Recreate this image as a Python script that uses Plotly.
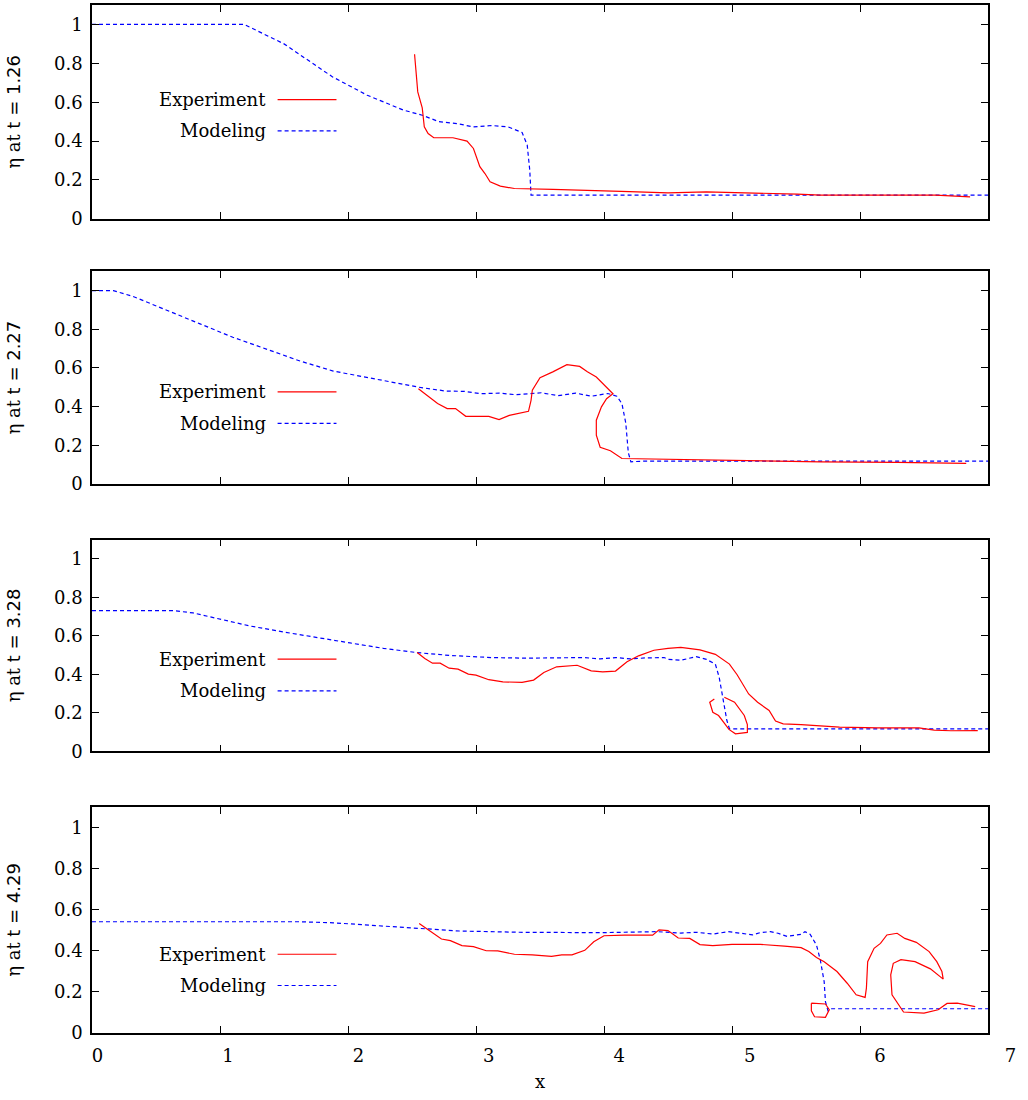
import plotly.graph_objects as go

# time labels of the four snapshots
times = ["1.26", "2.27", "3.28", "4.29"]

# t = 1.26
x_exp_1 = [2.52, 2.545, 2.58, 2.587, 2.596, 2.626, 2.67, 2.82, 2.93, 2.98, 3.03, 3.07, 3.11, 3.19, 3.30,
           3.60, 3.90, 4.20, 4.50, 4.80, 5.10, 5.40, 5.51, 5.69, 5.99, 6.29, 6.59, 6.86]
eta_exp_1 = [0.847, 0.653, 0.571, 0.525, 0.473, 0.439, 0.417, 0.417, 0.40, 0.362, 0.268, 0.233, 0.19, 0.168, 0.156,
             0.151, 0.144, 0.140, 0.134, 0.139, 0.134, 0.130, 0.127, 0.122, 0.122, 0.125, 0.122, 0.113]
x_mod_1 = [0, 1.19, 1.50, 1.88, 2.15, 2.43, 2.58, 2.71, 2.85, 2.98, 3.12, 3.19, 3.25, 3.30, 3.36, 3.40, 3.42,
           3.43, 3.45, 7.0]
eta_mod_1 = [1.0, 1.0, 0.90, 0.73, 0.636, 0.56, 0.533, 0.50, 0.49, 0.473, 0.48, 0.478, 0.473, 0.46, 0.444, 0.38,
             0.25, 0.122, 0.122, 0.122]

# t = 2.27
x_exp_2 = [2.55, 2.70, 2.775, 2.84, 2.92, 3.10, 3.18, 3.26, 3.41, 3.43, 3.44, 3.50, 3.60, 3.71, 3.81, 3.87,
           3.94, 4.03, 4.07, 4.02, 3.98, 3.94, 3.94, 3.97, 4.05, 4.14, 4.50, 5.10, 5.69, 6.29, 6.83]
eta_exp_2 = [0.493, 0.416, 0.39, 0.39, 0.35, 0.35, 0.333, 0.355, 0.376, 0.433, 0.485, 0.55, 0.58, 0.617, 0.608,
             0.58, 0.553, 0.493, 0.467, 0.441, 0.399, 0.33, 0.253, 0.19, 0.172, 0.132, 0.128, 0.121, 0.115,
             0.112, 0.107]
x_mod_2 = [0, 0.167, 0.32, 0.583, 0.844, 1.10, 1.365, 1.625, 1.885, 2.146, 2.406, 2.55, 2.76, 2.91, 3.04, 3.18,
           3.31, 3.43, 3.51, 3.64, 3.78, 3.90, 3.96, 4.03, 4.10, 4.14, 4.17, 4.19, 4.21, 4.32, 7.0]
eta_mod_2 = [1.0, 1.0, 0.97, 0.897, 0.828, 0.759, 0.696, 0.636, 0.584, 0.55, 0.519, 0.501, 0.481, 0.479, 0.467,
             0.47, 0.462, 0.47, 0.472, 0.457, 0.47, 0.454, 0.46, 0.468, 0.454, 0.416, 0.316, 0.162, 0.115,
             0.119, 0.119]

# t = 3.28 (None splits the small curl from the main front)
x_exp_3 = [2.54, 2.60, 2.66, 2.72, 2.79, 2.86, 2.94, 3.00, 3.10, 3.21, 3.36, 3.45, 3.53, 3.63, 3.79, 3.90,
           3.99, 4.09, 4.18, 4.27, 4.39, 4.50, 4.60, 4.75, 4.87, 4.98, 5.04, 5.13, 5.20, 5.29, 5.34, 5.40,
           5.54, 5.84, 6.14, 6.46, 6.58, 6.71, 6.92, None,
           4.862, 4.826, 4.85, 4.895, 4.94, 4.976, 5.027, 5.12, 5.12, 5.096, 5.02, 4.94]
eta_exp_3 = [0.513, 0.482, 0.458, 0.458, 0.432, 0.427, 0.401, 0.396, 0.372, 0.361, 0.358, 0.37, 0.41, 0.439,
             0.447, 0.418, 0.413, 0.417, 0.465, 0.496, 0.525, 0.535, 0.54, 0.527, 0.504, 0.453, 0.398, 0.298,
             0.255, 0.212, 0.157, 0.143, 0.139, 0.126, 0.122, 0.122, 0.11, 0.107, 0.108, None,
             0.272, 0.255, 0.203, 0.186, 0.146, 0.114, 0.091, 0.098, 0.139, 0.186, 0.255, 0.281]
x_mod_3 = [0, 0.635, 0.79, 0.974, 1.234, 1.495, 1.755, 2.016, 2.276, 2.536, 2.797, 3.12, 3.39, 3.66, 3.84,
           3.97, 4.09, 4.21, 4.32, 4.47, 4.50, 4.60, 4.72, 4.80, 4.87, 4.90, 4.93, 4.96, 4.98, 5.04, 7.0]
eta_mod_3 = [0.731, 0.731, 0.719, 0.69, 0.651, 0.62, 0.59, 0.563, 0.535, 0.513, 0.498, 0.487, 0.484, 0.484,
             0.487, 0.48, 0.487, 0.48, 0.485, 0.487, 0.478, 0.473, 0.492, 0.478, 0.453, 0.384, 0.28, 0.16,
             0.117, 0.117, 0.117]

# t = 4.29
x_exp_4 = [2.556, 2.62, 2.73, 2.80, 2.89, 2.98, 3.08, 3.17, 3.30, 3.44, 3.59, 3.67, 3.75, 3.85, 3.92, 4.00,
           4.16, 4.38, 4.43, 4.50, 4.58, 4.67, 4.75, 4.85, 5.00, 5.22, 5.30, 5.41, 5.54, 5.60, 5.66, 5.72,
           5.82, 5.90, 5.97, 6.04, 6.05, 6.06, 6.11, 6.16, 6.21, 6.29, 6.35, 6.44, 6.54, 6.60, 6.64, 6.65,
           6.55, 6.43, 6.32, 6.26, 6.24, 6.25, 6.34, 6.50, 6.61, 6.68, 6.76, 6.90, None,
           5.62, 5.68, 5.73, 5.76, 5.73, 5.645, 5.62, 5.62]
eta_exp_4 = [0.533, 0.504, 0.457, 0.449, 0.425, 0.42, 0.40, 0.399, 0.383, 0.38, 0.373, 0.38, 0.38, 0.402,
             0.444, 0.473, 0.476, 0.476, 0.502, 0.498, 0.462, 0.46, 0.43, 0.425, 0.431, 0.431, 0.428, 0.423,
             0.415, 0.396, 0.367, 0.347, 0.299, 0.242, 0.186, 0.173, 0.218, 0.347, 0.412, 0.436, 0.477,
             0.485, 0.46, 0.441, 0.396, 0.347, 0.299, 0.262, 0.312, 0.347, 0.357, 0.339, 0.283, 0.186, 0.102,
             0.097, 0.113, 0.144, 0.145, 0.128, None,
             0.145, 0.142, 0.141, 0.113, 0.076, 0.079, 0.108, 0.145]
x_mod_4 = [0, 1.625, 1.885, 2.146, 2.406, 2.615, 2.87, 3.34, 3.66, 3.97, 4.16, 4.41, 4.60, 4.72, 4.85, 4.97,
           5.07, 5.16, 5.22, 5.30, 5.36, 5.43, 5.54, 5.57, 5.61, 5.66, 5.69, 5.72, 5.73, 5.75, 5.77, 7.0]
eta_mod_4 = [0.541, 0.541, 0.536, 0.525, 0.512, 0.504, 0.496, 0.49, 0.488, 0.488, 0.49, 0.493, 0.486, 0.49,
             0.481, 0.493, 0.485, 0.477, 0.488, 0.493, 0.485, 0.47, 0.48, 0.493, 0.48, 0.428, 0.355, 0.25,
             0.153, 0.108, 0.118, 0.118]

x_exp = [x_exp_1, x_exp_2, x_exp_3, x_exp_4]
eta_exp = [eta_exp_1, eta_exp_2, eta_exp_3, eta_exp_4]
x_mod = [x_mod_1, x_mod_2, x_mod_3, x_mod_4]
eta_mod = [eta_mod_1, eta_mod_2, eta_mod_3, eta_mod_4]

SERIF = "DejaVu Serif"
FS = 18
# paper-y domains of the four panels, top to bottom
domains = [[0.792, 1.0], [0.534, 0.741], [0.274, 0.480], [0.0, 0.220]]
# where the hand-placed key sits in each panel (y of Experiment / Modeling rows)
key_rows = [(0.613, 0.452), (0.476, 0.314), (0.479, 0.314), (0.383, 0.231)]
plot_w = 896 / 919

fig = go.Figure()
layout = dict(
    width=1028, height=1100,
    margin=dict(l=92, r=17, t=3, b=67),
    paper_bgcolor="white", plot_bgcolor="rgba(0,0,0,0)",
    showlegend=False,
    font=dict(family=SERIF, size=FS, color="black"),
    shapes=[], annotations=[],
)

for i in range(4):
    n = "" if i == 0 else str(i + 1)
    xa, ya = "x" + n, "y" + n
    fig.add_trace(go.Scatter(x=x_mod[i], y=eta_mod[i], mode="lines", name="Modeling",
                             line=dict(color="#0000ff", width=1.2, dash="4px,3px"), xaxis=xa, yaxis=ya))
    fig.add_trace(go.Scatter(x=x_exp[i], y=eta_exp[i], mode="lines", name="Experiment",
                             line=dict(color="#ff0000", width=1.2), connectgaps=False, xaxis=xa, yaxis=ya))

    layout["xaxis" + n] = dict(
        domain=[0, plot_w], anchor=ya, range=[0, 7], dtick=1, ticks="inside", ticklen=7,
        tickcolor="black", showline=True, linecolor="black", linewidth=1.5, mirror="allticks",
        showgrid=False, zeroline=False, showticklabels=False,
    )
    layout["yaxis" + n] = dict(
        domain=domains[i], anchor=xa, range=[0, 1.1], tick0=0, dtick=0.2, ticks="inside", ticklen=7,
        tickcolor="black", showline=True, linecolor="black", linewidth=1.5, mirror="allticks",
        showgrid=False, zeroline=False, ticklabelstandoff=4,
        tickfont=dict(family=SERIF, size=FS),
        title=dict(text="η at <span style='font-family:DejaVu Sans'>t = " + times[i] + "</span>",
                   font=dict(family=SERIF, size=FS), standoff=29),
    )

    ye, ym = key_rows[i]
    for label, yy, col, dash in [("Experiment", ye, "#ff0000", "solid"), ("Modeling", ym, "#0000ff", "4px,3px")]:
        layout["annotations"].append(dict(x=1.375, y=yy, xref=xa, yref=ya, text=label, showarrow=False,
                                          xanchor="right", yanchor="middle",
                                          font=dict(family=SERIF, size=FS)))
        layout["shapes"].append(dict(type="line", xref=xa, yref=ya, x0=1.45, x1=1.91, y0=yy, y1=yy,
                                     line=dict(color=col, width=1.2, dash=dash)))

layout["xaxis4"]["title"] = dict(text="x", font=dict(family=SERIF, size=FS), standoff=42)

# the x tick numbers of the original sit on a slightly wider scale than the tick marks,
# so they live on their own label-only axis pair
layout["xaxis5"] = dict(
    domain=[5.5 / 919, 918.5 / 919], anchor="free", position=0, range=[0, 7], dtick=1,
    showline=False, ticks="", showgrid=False, zeroline=False, ticklabelstandoff=10,
    tickfont=dict(family=SERIF, size=FS),
)
layout["yaxis5"] = dict(domain=[0.0, 0.01], anchor="x5", range=[0, 1], visible=False)
fig.add_trace(go.Scatter(x=[], y=[], mode="lines", xaxis="x5", yaxis="y5", hoverinfo="skip"))

fig.update_layout(**layout)
fig.write_html("out.html", config={"displayModeBar": False},
               post_script="document.body.style.margin='0px';")
